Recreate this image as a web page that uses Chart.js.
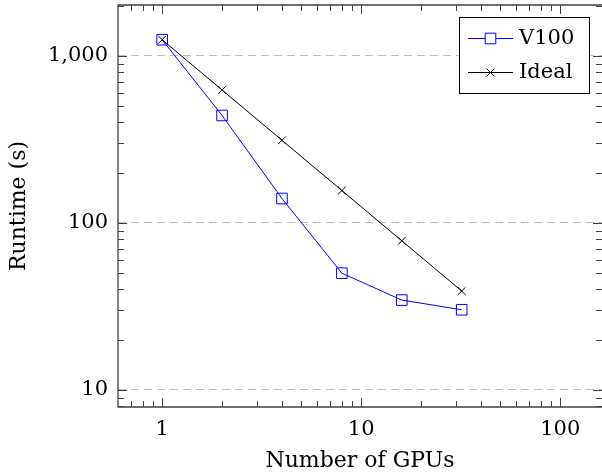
<!DOCTYPE html>
<html>
<head>
<meta charset="utf-8">
<script src="https://cdn.jsdelivr.net/npm/chart.js@4"></script>
<style>
  body { margin: 0; background: #fff; }
  #wrap { width: 602px; height: 476px; }
</style>
</head>
<body>
<div id="wrap"><canvas id="scalingChart" width="602" height="476"></canvas></div>
<script>
// Strong scaling data (runtime in seconds)
const gpus = [1, 2, 4, 8, 16, 32];
const v100Runtime = [1250, 440, 140, 50, 34.5, 30.2];
const idealRuntime = [1250, 625, 312.5, 156.25, 78.1, 39.1];

const xTickValues = [1, 10, 100];
const yTickValues = [10, 100, 1000];
const xRange = [0.616, 162.2];
const yRange = [7.9, 2018];

const serif = "'DejaVu Serif', 'Liberation Serif', serif";
const frameColor = '#404040';

// no extra label padding around the plot box
function noPadding(scale) {
    scale.paddingTop = 0;
    scale.paddingBottom = 0;
    scale.paddingLeft = 0;
    scale.paddingRight = 0;
}

// Frame with inward ticks on all four sides (pgfplots style)
const framePlugin = {
    id: 'frame',
    afterDatasetsDraw(chart) {
        const ctx = chart.ctx;
        const a = chart.chartArea;
        const xs = chart.scales.x, ys = chart.scales.y;
        const minorOf = (lo, hi) => {
            const out = [];
            for (let d = Math.floor(Math.log10(lo)); d <= Math.ceil(Math.log10(hi)); d++) {
                for (let k = 1; k <= 9; k++) {
                    const v = k * Math.pow(10, d);
                    if (v >= lo && v <= hi) out.push({ v: v, major: k === 1 });
                }
            }
            return out;
        };
        ctx.save();
        ctx.strokeStyle = frameColor;
        ctx.lineWidth = 1;
        minorOf(xRange[0], xRange[1]).forEach(t => {
            const px = Math.round(xs.getPixelForValue(t.v)) + 0.5;
            const len = t.major ? 9 : 6;
            ctx.beginPath();
            ctx.moveTo(px, a.bottom); ctx.lineTo(px, a.bottom - len);
            ctx.moveTo(px, a.top); ctx.lineTo(px, a.top + len);
            ctx.stroke();
        });
        minorOf(yRange[0], yRange[1]).forEach(t => {
            const py = Math.round(ys.getPixelForValue(t.v)) + 0.5;
            const len = t.major ? 9 : 6;
            ctx.beginPath();
            ctx.moveTo(a.left, py); ctx.lineTo(a.left + len, py);
            ctx.moveTo(a.right, py); ctx.lineTo(a.right - len, py);
            ctx.stroke();
        });
        // right side of the box falls on the canvas edge, so only three sides show
        ctx.lineWidth = 1.3;
        ctx.beginPath();
        ctx.moveTo(a.right, a.top);
        ctx.lineTo(a.left, a.top);
        ctx.lineTo(a.left, a.bottom);
        ctx.lineTo(a.right, a.bottom);
        ctx.stroke();
        ctx.restore();
    },
    afterDraw(chart) {
        // Legend box in the upper right corner
        const ctx = chart.ctx;
        const box = { x: 459.5, y: 17.5, w: 130, h: 76 };
        ctx.save();
        ctx.fillStyle = '#fff';
        ctx.fillRect(box.x, box.y, box.w, box.h);
        ctx.strokeStyle = '#000';
        ctx.lineWidth = 1;
        ctx.strokeRect(box.x, box.y, box.w, box.h);
        const rows = [
            { label: 'V100', color: '#0000ff', style: 'rect', r: 7.5, y: 38 },
            { label: 'Ideal', color: '#000000', style: 'crossRot', r: 5.5, y: 72 }
        ];
        rows.forEach(row => {
            ctx.strokeStyle = row.color;
            ctx.lineWidth = 1;
            ctx.beginPath();
            ctx.moveTo(468, row.y + 0.5);
            ctx.lineTo(513, row.y + 0.5);
            ctx.stroke();
            Chart.helpers.drawPoint(ctx, {
                pointStyle: row.style, radius: row.r, rotation: 0, borderWidth: 1
            }, 490.5, row.y + 0.5);
            ctx.fillStyle = '#000';
            ctx.font = '21px ' + serif;
            ctx.textAlign = 'left';
            ctx.textBaseline = 'middle';
            ctx.fillText(row.label, 519, row.y + 1);
        });
        ctx.restore();
    }
};

const ctx = document.getElementById('scalingChart').getContext('2d');

const scalingChart = new Chart(ctx, {
    type: 'line',
    data: {
        datasets: [
            {
                label: 'V100',
                data: gpus.map((g, i) => ({ x: g, y: v100Runtime[i] })),
                borderColor: '#0000ff',
                backgroundColor: 'transparent',
                borderWidth: 1,
                pointStyle: 'rect',
                pointRadius: 7.5,
                pointBorderWidth: 1,
                pointBorderColor: '#0000ff',
                pointBackgroundColor: 'transparent',
                tension: 0
            },
            {
                label: 'Ideal',
                data: gpus.map((g, i) => ({ x: g, y: idealRuntime[i] })),
                borderColor: '#000000',
                backgroundColor: 'transparent',
                borderWidth: 1,
                pointStyle: 'crossRot',
                pointRadius: 5.5,
                pointBorderWidth: 1,
                pointBorderColor: '#000000',
                tension: 0
            }
        ]
    },
    options: {
        responsive: false,
        animation: false,
        layout: { autoPadding: false, padding: { top: 5, right: 0, left: 0, bottom: 0 } },
        plugins: {
            legend: { display: false },
            tooltip: { enabled: false }
        },
        scales: {
            x: {
                type: 'logarithmic',
                position: 'bottom',
                min: xRange[0],
                max: xRange[1],
                afterBuildTicks: scale => { scale.ticks = xTickValues.map(v => ({ value: v })); },
                afterFit: scale => { scale.height = 69; noPadding(scale); },
                ticks: {
                    autoSkip: false,
                    maxRotation: 0,
                    padding: 10,
                    color: '#000',
                    font: { family: serif, size: 21 },
                    callback: v => v.toLocaleString('en-US')
                },
                grid: { display: false, drawTicks: false },
                border: { display: false },
                title: {
                    display: true,
                    text: 'Number of GPUs',
                    color: '#000',
                    font: { family: serif, size: 22 },
                    padding: { top: 0, bottom: 2 }
                }
            },
            y: {
                type: 'logarithmic',
                position: 'left',
                min: yRange[0],
                max: yRange[1],
                afterBuildTicks: scale => { scale.ticks = yTickValues.map(v => ({ value: v })); },
                afterFit: scale => { scale.width = 118; noPadding(scale); },
                ticks: {
                    autoSkip: false,
                    padding: 10,
                    color: '#000',
                    font: { family: serif, size: 21 },
                    callback: v => v.toLocaleString('en-US')
                },
                grid: {
                    color: '#bdbdbd',
                    lineWidth: 1,
                    drawTicks: false
                },
                border: { display: false, dash: [8, 5] },
                title: {
                    display: true,
                    text: 'Runtime (s)',
                    color: '#000',
                    font: { family: serif, size: 22 },
                    padding: { top: 6, bottom: 0 }
                }
            }
        }
    },
    plugins: [framePlugin]
});
</script>
</body>
</html>
